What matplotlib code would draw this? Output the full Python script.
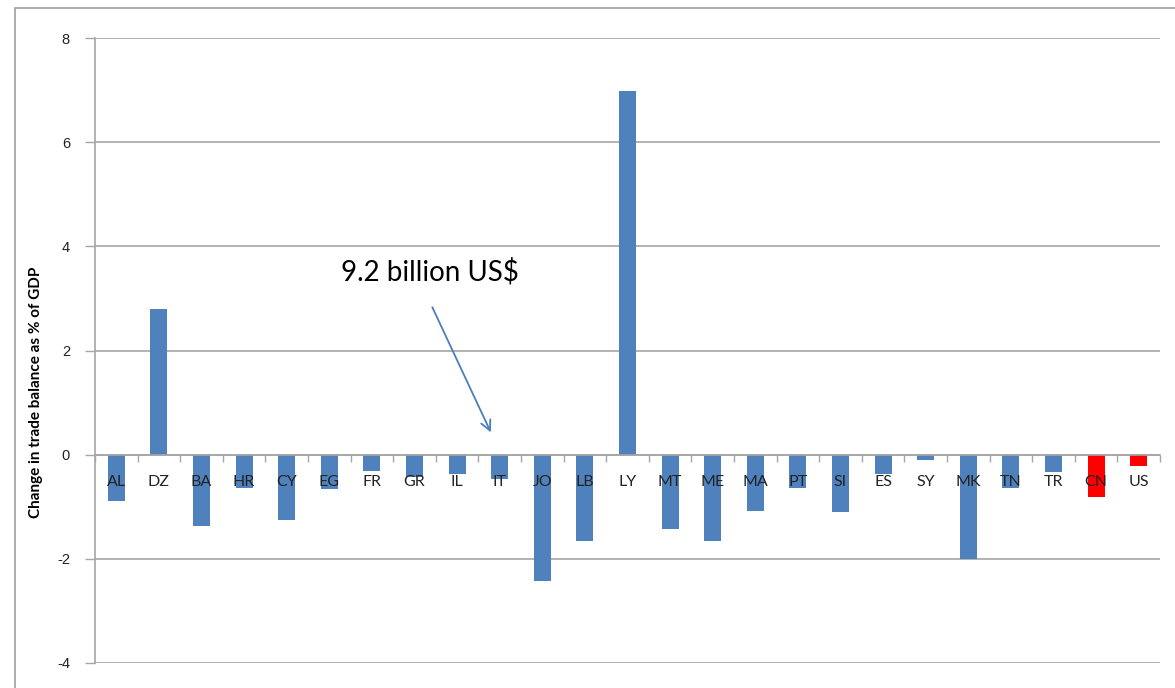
import matplotlib
matplotlib.use("Agg")
import matplotlib.pyplot as plt
from matplotlib.patches import Rectangle
import numpy as np

countries = ["AL", "DZ", "BA", "HR", "CY", "EG", "FR", "GR", "IL", "IT", "JO", "LB", "LY",
             "MT", "ME", "MA", "PT", "SI", "ES", "SY", "MK", "TN", "TR", "CN", "US"]
values = [-0.88, 2.79, -1.36, -0.64, -1.26, -0.66, -0.31, -0.42, -0.37, -0.47, -2.43, -1.65, 6.98,
          -1.42, -1.65, -1.09, -0.64, -1.11, -0.38, -0.10, -2.01, -0.64, -0.34, -0.82, -0.21]
highlight = ["CN", "US"]
yticks = [-4, -2, 0, 2, 4, 6, 8]
ylabel = "Change in trade balance as % of GDP"
annotation = "9.2 billion US$"

BLUE = "#4F81BD"
RED = "#FF0000"
GRID = "#A6A6A6"

fig = plt.figure(figsize=(11.75, 6.88), dpi=100)
ax = fig.add_axes([95/1175, 1 - 663/688, 1065/1175, 625/688])

# outer chart border
fig.patches.append(Rectangle((15/1175, -0.05), 1.1, 1 - 8/688 + 0.05, transform=fig.transFigure,
                             fill=False, edgecolor="#A0A0A0", linewidth=1.2))

x = np.arange(len(countries))
colors = [RED if c in highlight else BLUE for c in countries]
ax.bar(x, values, width=0.4, color=colors, zorder=2)

ax.set_xlim(-0.5, len(countries) - 0.5)
ax.set_ylim(-4, 8)
ax.set_yticks(yticks)
ax.set_yticklabels([str(t) for t in yticks], fontsize=10.5, family="Liberation Sans", color="#222222")
ax.yaxis.grid(True, color=GRID, linewidth=1.2, zorder=0)
ax.set_axisbelow(True)
ax.tick_params(axis="y", length=7, color=GRID, width=1, pad=11)

for s in ["top", "right"]:
    ax.spines[s].set_visible(False)
ax.spines["left"].set_color(GRID)
ax.spines["left"].set_linewidth(1.2)
ax.spines["bottom"].set_position(("data", 0))
ax.spines["bottom"].set_color(GRID)
ax.spines["bottom"].set_linewidth(1.2)

ax.set_xticks([])
ax.set_xticks(np.arange(len(countries) + 1) - 0.5, minor=True)
ax.tick_params(axis="x", which="minor", length=5, color=GRID, width=1, direction="out")
ax.tick_params(axis="x", which="major", length=0)

for i, c in enumerate(countries):
    ax.annotate(c, (i, 0), xytext=(0, -20), textcoords="offset points", ha="center", va="center",
                fontsize=11.5, family="Lato", color="#222222", zorder=5)

ax.set_ylabel(ylabel, fontsize=11, fontweight="bold", family="Lato")
ax.yaxis.set_label_coords(-0.049, (663 - 392) / 625)

ax.annotate("", xy=(8.82, 0.38), xytext=(7.39, 2.88),
            arrowprops=dict(arrowstyle="->", color="#4A7EBB", lw=1.3, mutation_scale=18))
ax.text(7.36, 3.51, annotation, fontsize=20, family="Lato", ha="center", va="center", color="black")

fig.savefig("out.png", dpi=100)
